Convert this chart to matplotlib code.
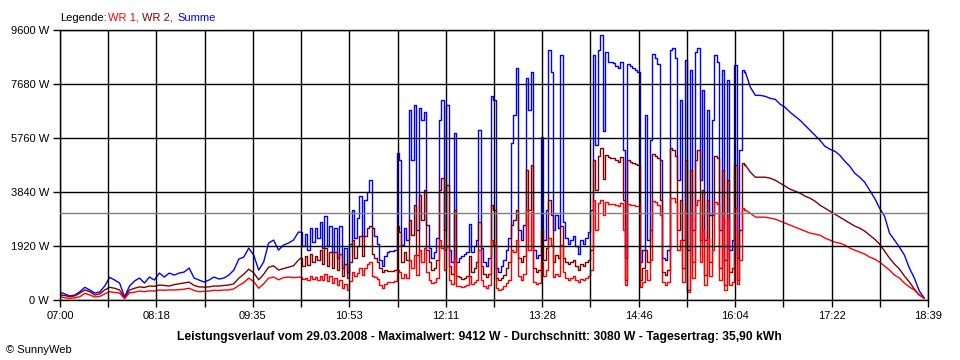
import numpy as np
import matplotlib.pyplot as plt

plt.rcParams['font.family'] = ['Liberation Sans', 'DejaVu Sans']

# time in minutes after 07:00 (finer sampling in the cloudy midday part)
t_morning = np.arange(0, 193, 4)
t_midday = np.arange(194, 553, 2)
t_evening = np.arange(556, 697, 4)

# WR 1 (red), W
wr1_morning = [100, 60, 40, 60, 100, 220, 160, 89, 110, 200,
               277, 250, 230, 30, 240, 260, 300, 280, 310, 300,
               338, 330, 340, 340, 350, 370, 400, 320, 280, 290,
               300, 330, 320, 340, 340, 380, 500, 600, 760, 640,
               400, 560, 760, 800, 700, 780, 800, 780, 790]
wr1_midday = [800, 730, 765, 693, 836, 730, 800, 693, 836, 693,
              907, 658, 836, 587, 765, 516, 693, 409, 551, 338,
              658, 978, 836, 942, 1120, 871, 1120, 1262, 1334, 836,
              800, 730, 516, 409, 551, 622, 622, 622, 658, 1049,
              978, 765, 907, 765, 1405, 1120, 1582, 871, 1760, 1334,
              1831, 978, 693, 587, 622, 765, 2116, 1831, 1049, 1902,
              693, 551, 1476, 480, 480, 445, 480, 516, 836, 551,
              622, 693, 1760, 693, 480, 409, 516, 2116, 1938, 409,
              338, 373, 480, 587, 693, 1760, 1689, 2116, 836, 693,
              907, 3183, 1760, 3112, 622, 551, 587, 1334, 836, 1049,
              2187, 1938, 800, 907, 836, 1938, 978, 765, 693, 765,
              836, 693, 622, 730, 693, 765, 836, 1049, 3538, 2471,
              3431, 3550, 3000, 3467, 3396, 3396, 3396, 3360, 3325, 3431,
              2471, 516, 3396, 3360, 3360, 3325, 3325, 445, 622, 1049,
              693, 1405, 3502, 3467, 3360, 3005, 622, 516, 622, 3609,
              3609, 3467, 1760, 2116, 622, 3183, 267, 3005, 765, 3360,
              3538, 1334, 2471, 516, 2187, 836, 1760, 3467, 3396, 693,
              3112, 338, 2898, 516, 622, 3254, 551, 1405, 3254, 3183]
wr1_evening = [3076, 2934, 2934, 2934, 2898, 2863, 2791, 2720, 2650, 2578,
               2507, 2436, 2365, 2329, 2294, 2187, 2116, 2045, 2009, 1938,
               1831, 1760, 1689, 1618, 1511, 1440, 1334, 1191, 1049, 871,
               765, 587, 445, 338, 160, 53]

# WR 2 (dark red), W
wr2_morning = [160, 140, 100, 130, 230, 338, 280, 160, 200, 340,
               434, 400, 338, 60, 338, 400, 450, 430, 480, 470,
               516, 500, 480, 530, 560, 590, 620, 500, 450, 440,
               450, 480, 480, 500, 516, 560, 760, 900, 1080, 950,
               700, 900, 1150, 1200, 1050, 1100, 1150, 1200, 1400]
wr2_midday = [1476, 1190, 1547, 1230, 1618, 1334, 1547, 1405, 1760, 1262,
              1831, 1191, 1689, 1120, 1689, 1049, 1618, 836, 1262, 765,
              1334, 2116, 1476, 1902, 2258, 1547, 2258, 2543, 2614, 1618,
              1476, 1334, 1120, 978, 1049, 1014, 1014, 1014, 1049, 2614,
              2400, 1334, 1689, 1405, 2827, 2293, 3360, 1582, 3716, 2827,
              3894, 1760, 1334, 1049, 1120, 1405, 3894, 4321, 1760, 4071,
              1191, 907, 3183, 836, 800, 729, 765, 836, 1547, 978,
              1120, 1334, 2756, 1191, 907, 800, 907, 3360, 3183, 765,
              693, 765, 871, 1120, 1334, 2650, 2827, 3183, 1476, 1334,
              1547, 4605, 3183, 4783, 1120, 978, 1049, 2471, 1405, 1831,
              3538, 3005, 1334, 1582, 1476, 2614, 1476, 1334, 1262, 1334,
              1405, 1191, 1049, 1262, 1191, 1334, 1405, 1760, 4961, 3894,
              5100, 5400, 4300, 5138, 5067, 5032, 5032, 4961, 4890, 5067,
              3538, 693, 4961, 4890, 4854, 4818, 4783, 693, 1120, 1760,
              1334, 2471, 5174, 5103, 5032, 3538, 978, 871, 1049, 5387,
              5316, 5103, 2471, 3538, 1120, 4961, 338, 4605, 1334, 4961,
              5316, 2116, 3894, 871, 3538, 1334, 3005, 5103, 5032, 1120,
              4605, 516, 4250, 978, 1120, 4783, 693, 2471, 4854, 4783]
wr2_evening = [4534, 4356, 4356, 4356, 4321, 4250, 4143, 4036, 3929, 3858,
               3787, 3680, 3609, 3503, 3360, 3254, 3147, 3040, 2934, 2827,
               2720, 2614, 2543, 2436, 2294, 2151, 1974, 1725, 1476, 1262,
               1085, 836, 622, 373, 160, 53]

# Summe (blue), W
sum_morning = [256, 196, 124, 160, 277, 434, 338, 231, 267, 480,
               790, 693, 587, 90, 480, 658, 765, 587, 800, 693,
               942, 800, 942, 871, 942, 978, 1120, 765, 693, 622,
               693, 800, 729, 765, 871, 1049, 1440, 1511, 1831, 1582,
               1049, 1334, 2010, 2116, 1760, 1938, 2010, 2116, 2400]
sum_midday = [2400, 1900, 2330, 1760, 2543, 2045, 2543, 2187, 2756, 1831,
              2969, 1902, 2614, 1689, 2543, 1476, 2614, 1120, 1831, 978,
              1974, 3183, 2187, 2898, 3680, 2258, 3538, 3823, 4250, 2543,
              2258, 1974, 1405, 1191, 1547, 1689, 1725, 1725, 1760, 5210,
              4960, 1938, 2543, 2116, 6740, 4960, 6917, 2471, 6810, 6383,
              6667, 2650, 1831, 1476, 1689, 2187, 6383, 7094, 2471, 6917,
              1760, 1334, 5920, 1334, 1476, 1547, 1618, 1689, 2685, 1689,
              1902, 2116, 6027, 1831, 1334, 1191, 1476, 7236, 7094, 1120,
              978, 1191, 1405, 1760, 2187, 5567, 6560, 8232, 2471, 2116,
              2650, 7876, 6740, 8090, 1760, 1476, 1582, 5779, 2116, 3183,
              8872, 8090, 2471, 3005, 2543, 8694, 2756, 2187, 1974, 2116,
              2258, 1902, 1618, 2116, 1974, 2187, 2400, 3183, 8694, 5494,
              8900, 9412, 6000, 8800, 8445, 8445, 8410, 8303, 8232, 8445,
              5316, 1476, 8374, 8303, 8232, 8161, 8090, 1334, 1760, 6560,
              2116, 5672, 8730, 8588, 8374, 4961, 1476, 1405, 1760, 8872,
              8943, 8588, 4250, 7094, 2116, 8516, 1760, 8161, 2471, 8801,
              8943, 4250, 7450, 2116, 6740, 3005, 6383, 8694, 8445, 2471,
              8161, 1405, 7805, 1760, 2116, 8339, 1476, 5316, 8161, 8090]
sum_evening = [7557, 7272, 7272, 7236, 7165, 7130, 6952, 6845, 6667, 6525,
               6383, 6205, 6027, 5850, 5672, 5458, 5352, 5281, 5138, 4925,
               4747, 4498, 4356, 4178, 3894, 3609, 3254, 2969, 2365, 2116,
               1867, 1582, 1120, 765, 302, 53]

average = 3080
y_ticks = [0, 1920, 3840, 5760, 7680, 9600]
x_labels = ['07:00', '08:18', '09:35', '10:53', '12:11',
            '13:28', '14:46', '16:04', '17:22', '18:39']
title = ('Leistungsverlauf vom 29.03.2008 - Maximalwert: 9412 W - '
         'Durchschnitt: 3080 W - Tagesertrag: 35,90 kWh')

fig = plt.figure(figsize=(9.6, 3.6), dpi=100)
ax = fig.add_axes([60 / 960, 60.5 / 360, 868 / 960, 269.5 / 360])


def draw(morning, midday, evening, color):
    # smooth parts as plain line, the cloudy part stepwise
    ax.plot(np.append(t_morning, t_midday[0]), morning + midday[:1],
            color=color, lw=1.0, zorder=2)
    ax.plot(t_midday, midday, color=color, lw=1.0, drawstyle='steps-mid', zorder=2)
    ax.plot(np.insert(t_evening, 0, t_midday[-1]), midday[-1:] + evening,
            color=color, lw=1.0, zorder=2)


draw(sum_morning, sum_midday, sum_evening, '#0000ff')
draw(wr2_morning, wr2_midday, wr2_evening, '#800000')
draw(wr1_morning, wr1_midday, wr1_evening, '#ff0000')
ax.axhline(average, color='#808080', lw=1, zorder=3)

ax.set_xlim(0, 699)
ax.set_ylim(0, 9600)
xt = np.linspace(0, 699, 19)
ax.set_xticks(xt)
ax.set_xticklabels([x_labels[i // 2] if i % 2 == 0 else '' for i in range(19)])
ax.set_yticks(y_ticks)
ax.set_yticklabels([f'{v} W' for v in y_ticks])
ax.grid(True, color='black', lw=1)
ax.set_axisbelow(False)
ax.tick_params(direction='out', length=5, width=1, color='black',
               labelsize=8, pad=3)
for s in ax.spines.values():
    s.set_color('black')
    s.set_linewidth(1)

# legend line at the top
fig.text(60 / 960, 1 - 20.7 / 360, 'Legende:', fontsize=8, va='baseline')
fig.text(108 / 960, 1 - 20.7 / 360, 'WR 1,', fontsize=8, va='baseline', color='#ff0000')
fig.text(142 / 960, 1 - 20.7 / 360, 'WR 2,', fontsize=8, va='baseline', color='#800000')
fig.text(177 / 960, 1 - 20.7 / 360, 'Summe', fontsize=8, va='baseline', color='#0000ff')

fig.text(479.5 / 960, 1 - 340 / 360, title, fontsize=8.7, fontweight='bold',
         ha='center', va='baseline')
fig.text(6 / 960, 1 - 352.7 / 360, '© SunnyWeb', fontsize=8, va='baseline')

fig.savefig('out.png', dpi=100, facecolor='white')
